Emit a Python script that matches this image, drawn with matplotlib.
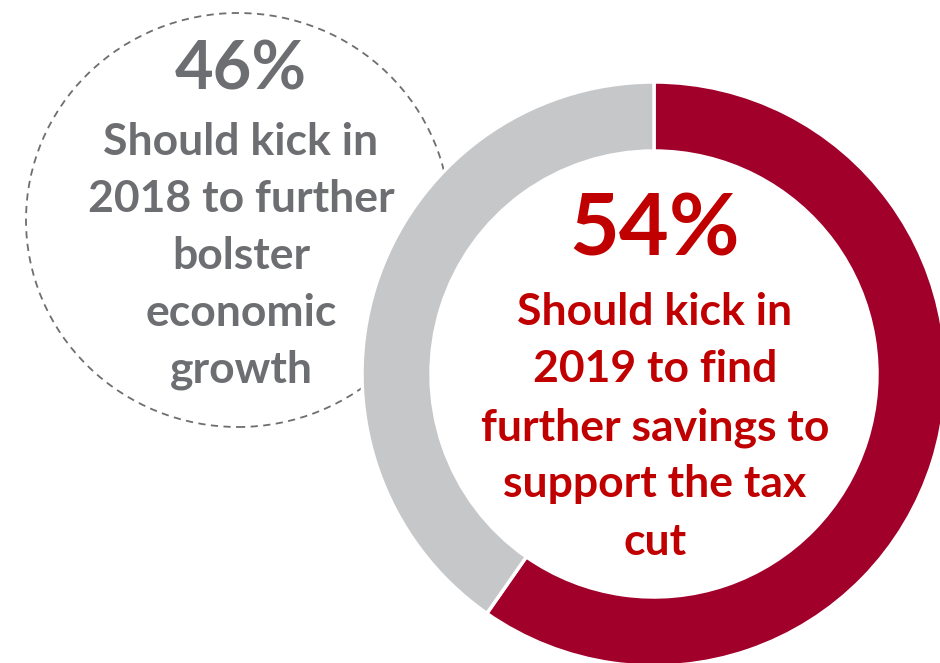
import matplotlib
matplotlib.use("Agg")
import matplotlib.pyplot as plt
from matplotlib.patches import Ellipse

# Data
labels = ["2019", "2018"]
shares = [54, 46]                 # labelled percentages
ring_arc_pct = [59.7, 40.3]       # arc share of the ring as drawn in the picture
colors = ["#A0002A", "#C6C7C9"]
red_pct = "54%"
gray_pct = "46%"
red_lines = ["Should kick in", "2019 to find", "further savings to", "support the tax", "cut"]
gray_lines = ["Should kick in", "2018 to further", "bolster", "economic", "growth"]

W, H = 940, 663
fig = plt.figure(figsize=(W / 100, H / 100), dpi=100)
ax = fig.add_axes([0, 0, 1, 1])
FONT = "Lato"

def py(y):
    return H - y

# dashed circle (behind donut)
ell = Ellipse((238, py(220)), width=424, height=414, fill=False,
              edgecolor="#6D6E71", linestyle=(0, (4, 3)), linewidth=1.3, zorder=1)
ax.add_patch(ell)

cx, cy, R, width = 654, py(374), 292, 69
ax.pie(ring_arc_pct, colors=colors, startangle=90, counterclock=False, radius=R,
       center=(cx, cy), wedgeprops=dict(width=width, edgecolor="white", linewidth=2.5),
       frame=True)

ax.set_xlim(0, W)
ax.set_ylim(0, H)
ax.set_aspect("equal")
ax.axis("off")

red_c = "#C00000"
gray_c = "#6D6E71"

ax.text(655, py(256), red_pct, color=red_c, fontsize=62, fontweight="bold",
        family=FONT, ha="center", va="baseline", zorder=5)
for i, line in enumerate(red_lines):
    ax.text(655, py(325 + 57.5 * i), line, color=red_c, fontsize=32, fontweight="bold",
            family=FONT, ha="center", va="baseline", zorder=5)

ax.text(241, py(90), gray_pct, color=gray_c, fontsize=48, fontweight="bold",
        family=FONT, ha="center", va="baseline", zorder=5)
for i, line in enumerate(gray_lines):
    ax.text(241, py(155 + 57 * i), line, color=gray_c, fontsize=32, fontweight="bold",
            family=FONT, ha="center", va="baseline", zorder=5)

fig.savefig("out.png", dpi=100, facecolor="white")
